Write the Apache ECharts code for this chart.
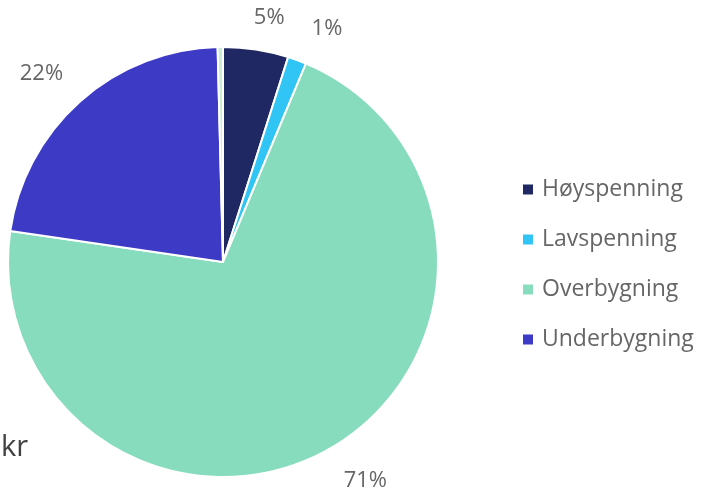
<!DOCTYPE html>
<html>
<head>
<meta charset="utf-8">
<script src="https://cdn.jsdelivr.net/npm/echarts@6/dist/echarts.min.js"></script>
<style>html,body{margin:0;padding:0;background:#fff}#c{width:702px;height:491px}</style>
</head>
<body>
<div id="c"></div>
<script>
const categories = ['Høyspenning', 'Lavspenning', 'Overbygning', 'Underbygning', 'Annet'];
const values = [4.9, 1.4, 71.0, 22.3, 0.4];
const percentLabels = ['5%', '1%', '71%', '22%', ''];
const colors = ['#1f2862', '#30c5f5', '#88dcbe', '#3d3ac5', '#c9ecd7'];
const legendItems = ['Høyspenning', 'Lavspenning', 'Overbygning', 'Underbygning'];
const labelShift = [[-12, 0], [-25, -13], [-6, 4], [9, -4], [0, 0]];

const chart = echarts.init(document.getElementById('c'));
chart.setOption({
  animation: false,
  color: colors,
  legend: {
    orient: 'vertical',
    left: 516,
    top: 173,
    data: legendItems,
    icon: 'rect',
    itemWidth: 12,
    itemHeight: 12,
    itemGap: 27,
    textStyle: { fontFamily: 'Open Sans', fontSize: 23, color: '#666666', padding: [0, 0, 0, 3] }
  },
  graphic: [{
    type: 'text', left: 1, top: 433,
    style: { text: 'kr', fontFamily: 'Open Sans', fontSize: 29, fill: '#404040' }
  }],
  series: [{
    type: 'pie',
    center: [223, 262],
    radius: 215,
    startAngle: 90,
    clockwise: true,
    itemStyle: { borderColor: '#fff', borderWidth: 2 },
    label: {
      position: 'outside',
      fontFamily: 'Open Sans',
      fontSize: 22,
      color: '#666666',
      overflow: 'none',
      formatter: p => percentLabels[p.dataIndex]
    },
    labelLine: { show: false, length: 32, length2: 0 },
    labelLayout: p => ({ dx: labelShift[p.dataIndex][0], dy: labelShift[p.dataIndex][1] }),
    emphasis: { disabled: true },
    data: categories.map((n, i) => ({
      name: n,
      value: values[i],
      label: { show: percentLabels[i] !== '' }
    }))
  }]
});
</script>
</body>
</html>
